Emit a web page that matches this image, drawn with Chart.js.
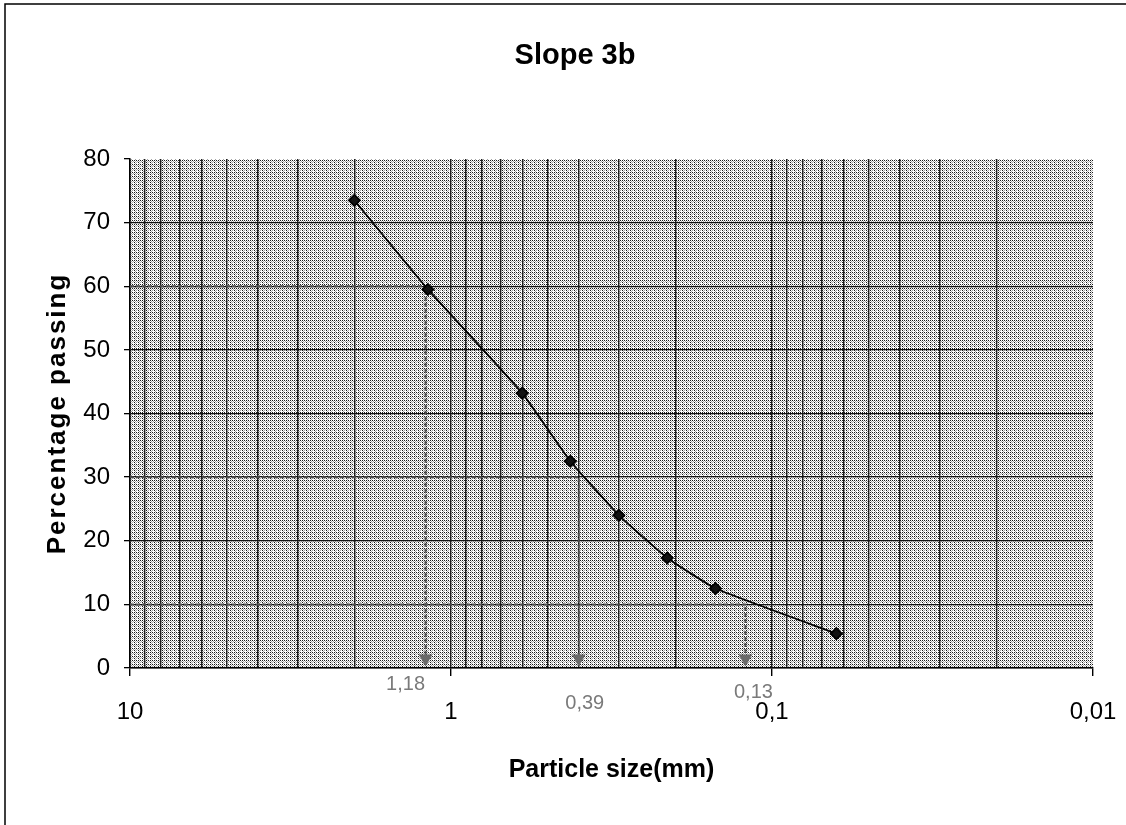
<!DOCTYPE html>
<html>
<head>
<meta charset="utf-8">
<title>Slope 3b</title>
<script src="https://cdn.jsdelivr.net/npm/chart.js@4.4.1/dist/chart.umd.min.js"></script>
<style>
  html, body { margin: 0; padding: 0; background: #fff; }
  #myChart { display: block; }
</style>
</head>
<body>
<canvas id="myChart" width="1126" height="825"></canvas>
<script>
// sieve sizes (mm) and percentage passing
const sizes = [2, 1.18, 0.6, 0.425, 0.3, 0.212, 0.15, 0.063];
const passing = [73.5, 59.5, 43.2, 32.5, 24, 17.3, 12.5, 5.4];

// D60 / D30 / D10 guide arrows
const guideLevels = [60, 30, 10];
const guideSizes = [1.2, 0.4, 0.121];
const guideLabels = ['1,18', '0,39', '0,13'];
const guideFloor = 1.5;

// log axis: decades and the in-between grid lines
const decades = [0.01, 0.1, 1, 10];
const minorSteps = [1, 2, 3, 4, 5, 6, 7, 8, 9];

const chartTitle = 'Slope 3b';
const yTitle = 'Percentage passing';
const xTitle = 'Particle size(mm)';

const FONT = '"Liberation Sans", Arial, sans-serif';

function isDecade(v) {
    return decades.some(d => Math.abs(d - v) < 1e-9);
}

function commaLabel(v) {
    return String(v).replace('.', ',');
}

// grey stipple like the scanned plot area (ordered dither)
function makeStipple(ctx) {
    const bayer = [[0, 8, 2, 10], [12, 4, 14, 6], [3, 11, 1, 9], [15, 7, 13, 5]];
    const tile = document.createElement('canvas');
    tile.width = 4;
    tile.height = 4;
    const t = tile.getContext('2d');
    for (let j = 0; j < 4; j++) {
        for (let i = 0; i < 4; i++) {
            const b = bayer[j][i];
            t.fillStyle = b < 3 ? '#1a1a1a' : (b < 7 ? '#a4a4a4' : '#ffffff');
            t.fillRect(i, j, 1, 1);
        }
    }
    return ctx.createPattern(tile, 'repeat');
}

const stipplePlugin = {
    id: 'stipple',
    beforeDraw(chart) {
        const {ctx, chartArea: a} = chart;
        ctx.save();
        ctx.fillStyle = '#fff';
        ctx.fillRect(0, 0, chart.width, chart.height);
        ctx.fillStyle = makeStipple(ctx);
        ctx.fillRect(a.left, a.top, a.right - a.left, a.bottom - a.top);
        ctx.restore();
    }
};

const textPlugin = {
    id: 'texts',
    afterDatasetsDraw(chart) {
        const {ctx, chartArea: a} = chart;
        const xs = chart.scales.x;
        const dx = [-20, 6, 8];
        const dy = [16, 35, 24];
        ctx.save();
        ctx.font = '20px ' + FONT;
        ctx.fillStyle = '#7a7a7a';
        ctx.textAlign = 'center';
        ctx.textBaseline = 'middle';
        guideLabels.forEach((txt, i) => {
            ctx.fillText(txt, xs.getPixelForValue(guideSizes[i]) + dx[i], a.bottom + dy[i]);
        });
        ctx.restore();
    },
    afterDraw(chart) {
        const {ctx, chartArea: a} = chart;
        ctx.save();
        // chart title
        ctx.fillStyle = '#000';
        ctx.textAlign = 'center';
        ctx.textBaseline = 'middle';
        ctx.font = 'bold 29px ' + FONT;
        ctx.fillText(chartTitle, 575, 56);
        // y axis title, a bit spaced out like the original
        ctx.save();
        ctx.translate(58, (a.top + a.bottom) / 2);
        ctx.rotate(-Math.PI / 2);
        ctx.font = 'bold 26px ' + FONT;
        if ('letterSpacing' in ctx) ctx.letterSpacing = '2px';
        ctx.fillText(yTitle, 0, 0);
        ctx.restore();
        // page frame, top and left edges only
        ctx.strokeStyle = '#000';
        ctx.lineWidth = 1.5;
        ctx.beginPath();
        ctx.moveTo(5, chart.height);
        ctx.lineTo(5, 4);
        ctx.lineTo(chart.width, 4);
        ctx.stroke();
        ctx.restore();
    }
};

// build datasets
const curve = sizes.map((s, i) => ({x: s, y: passing[i]}));

const guideSets = guideLevels.map((lvl, i) => ({
    label: 'D' + lvl,
    data: [{x: 10, y: lvl}, {x: guideSizes[i], y: lvl}, {x: guideSizes[i], y: guideFloor}],
    borderColor: '#505050',
    borderWidth: 2,
    borderDash: [4, 2],
    pointRadius: [0, 0, 6],
    pointStyle: 'triangle',
    pointRotation: 180,
    pointBackgroundColor: '#6a6a6a',
    pointBorderColor: '#6a6a6a',
    tension: 0,
    order: 2
}));

const tickList = [];
decades.slice(0, 3).forEach(d => {
    minorSteps.forEach(m => tickList.push(Math.round(m * d * 1000) / 1000));
});
tickList.push(10);

const config = {
    type: 'line',
    data: {
        datasets: [{
            label: chartTitle,
            data: curve,
            borderColor: '#000',
            borderWidth: 1.8,
            backgroundColor: '#000',
            pointStyle: 'rectRot',
            pointRadius: 5.5,
            pointBackgroundColor: '#111',
            pointBorderColor: '#000',
            tension: 0.1,
            fill: false,
            order: 1
        }].concat(guideSets)
    },
    options: {
        responsive: false,
        animation: false,
        layout: {padding: {top: 159, right: 33, bottom: 0, left: 0}},
        plugins: {
            legend: {display: false},
            tooltip: {enabled: false},
            title: {display: false}
        },
        scales: {
            x: {
                type: 'logarithmic',
                reverse: true,
                min: 0.01,
                max: 10,
                afterBuildTicks(scale) {
                    scale.ticks = tickList.map(v => ({value: v, major: isDecade(v)}));
                },
                afterFit(scale) {
                    scale.height = 157;
                },
                ticks: {
                    autoSkip: false,
                    maxRotation: 0,
                    color: '#000',
                    padding: 22,
                    font: {family: FONT, size: 24},
                    callback: v => isDecade(v) ? commaLabel(v) : ''
                },
                grid: {
                    color: ctx => (ctx.tick && Math.abs(ctx.tick.value - 0.01) < 1e-9) ? 'rgba(0,0,0,0)' : '#1e1e1e',
                    lineWidth: 1.4,
                    tickLength: 8,
                    tickColor: ctx => (ctx.tick && isDecade(ctx.tick.value)) ? '#000' : 'rgba(0,0,0,0)'
                },
                border: {display: true, color: '#000', width: 1.5},
                title: {
                    display: true,
                    text: xTitle,
                    color: '#000',
                    font: {family: FONT, size: 25, weight: 'bold'},
                    padding: {top: 0, bottom: 40}
                }
            },
            y: {
                min: 0,
                max: 80,
                afterFit(scale) {
                    scale.width = 130;
                },
                ticks: {
                    stepSize: 10,
                    color: '#000',
                    padding: 14,
                    font: {family: FONT, size: 24}
                },
                grid: {
                    color: ctx => (ctx.tick && ctx.tick.value === 80) ? 'rgba(0,0,0,0)' : '#111',
                    lineWidth: 1.3,
                    tickLength: 6,
                    tickColor: '#000'
                },
                border: {display: true, color: '#000', width: 1.5}
            }
        }
    },
    plugins: [stipplePlugin, textPlugin]
};

const myChart = new Chart(document.getElementById('myChart'), config);
</script>
</body>
</html>
